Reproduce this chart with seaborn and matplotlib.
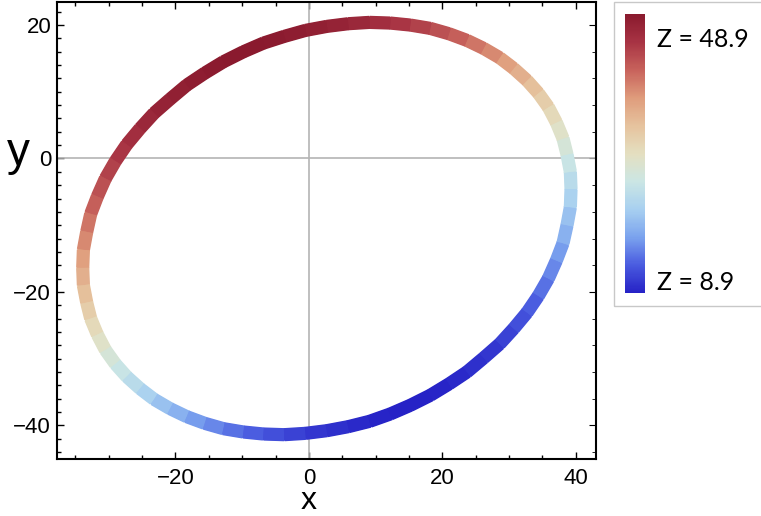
import numpy as np
import matplotlib
matplotlib.use("Agg")
import matplotlib.pyplot as plt
import seaborn as sns
from matplotlib.collections import LineCollection
from matplotlib.ticker import MultipleLocator
from matplotlib.patches import Rectangle
from matplotlib.cm import ScalarMappable

# points read along the ring (x, y) and the Z value shown by its colour
x_vals = [39.3, 39.2, 38.7, 38.1, 37.1, 35.9, 34.4, 32.7, 30.7, 28.6,
          26.2, 23.7, 21.0, 18.2, 15.2, 12.2, 9.1, 5.9, 2.7, -0.5,
          -3.7, -6.8, -9.8, -12.8, -15.6, -18.3, -20.8, -23.2, -25.3, -27.3,
          -29.0, -30.5, -31.7, -32.7, -33.3, -33.8, -33.9, -33.8, -33.3, -32.7,
          -31.7, -30.5, -29.0, -27.3, -25.3, -23.2, -20.8, -18.3, -15.6, -12.8,
          -9.8, -6.8, -3.7, -0.5, 2.7, 5.9, 9.1, 12.2, 15.2, 18.2,
          21.0, 23.7, 26.2, 28.6, 30.7, 32.7, 34.4, 35.9, 37.1, 38.1,
          38.7, 39.2]
y_vals = [-4.6, -2.0, 0.6, 3.0, 5.4, 7.7, 9.8, 11.7, 13.5, 15.1,
          16.5, 17.7, 18.7, 19.5, 20.0, 20.3, 20.4, 20.2, 19.8, 19.2,
          18.3, 17.3, 16.0, 14.5, 12.8, 11.0, 8.9, 6.8, 4.5, 2.1,
          -0.4, -3.0, -5.7, -8.3, -11.0, -13.7, -16.4, -19.0, -21.6, -24.0,
          -26.4, -28.7, -30.8, -32.7, -34.5, -36.1, -37.5, -38.7, -39.7, -40.5,
          -41.0, -41.3, -41.4, -41.2, -40.8, -40.2, -39.4, -38.3, -37.0, -35.5,
          -33.8, -32.0, -29.9, -27.8, -25.5, -23.1, -20.6, -18.0, -15.3, -12.7,
          -10.0, -7.3]
z_vals = [22.1, 23.7, 25.4, 27.2, 28.9, 30.6, 32.4, 34.1, 35.7, 37.4,
          38.9, 40.4, 41.8, 43.0, 44.2, 45.3, 46.2, 47.0, 47.7, 48.2,
          48.6, 48.8, 48.9, 48.8, 48.6, 48.2, 47.7, 47.0, 46.2, 45.3,
          44.2, 43.0, 41.8, 40.4, 38.9, 37.4, 35.7, 34.1, 32.4, 30.6,
          28.9, 27.2, 25.4, 23.7, 22.1, 20.4, 18.9, 17.4, 16.0, 14.8,
          13.6, 12.5, 11.6, 10.8, 10.1, 9.6, 9.2, 9.0, 8.9, 9.0,
          9.2, 9.6, 10.1, 10.8, 11.6, 12.5, 13.6, 14.8, 16.0, 17.4,
          18.9, 20.4]

z_min, z_max = 8.9, 48.9
z_labels = ["Z = 48.9", "Z = 8.9"]
x_ticks = [-20, 0, 20, 40]
y_ticks = [-40, -20, 0, 20]

# colours sampled from the colour bar, low to high
bar_colors = ["#2622c6", "#4a5ce0", "#7ba3ee", "#a8d0f0", "#cbe6e4",
              "#e4dfc0", "#e6c39e", "#df9c7c", "#c8635c", "#a83444", "#8a1a2e"]

sns.set_style("white")
plt.rcParams['font.family'] = ['Liberation Sans', 'DejaVu Sans']
plt.rcParams['text.color'] = 'black'
plt.rcParams['xtick.color'] = 'black'
plt.rcParams['ytick.color'] = 'black'

cmap = sns.blend_palette(bar_colors, as_cmap=True)
norm = plt.Normalize(z_min, z_max)

fig = plt.figure(figsize=(7.61, 5.16), dpi=100)
ax = fig.add_axes([56.7 / 761, 1 - 458.7 / 516, 539 / 761, 457 / 516])

# axes cross lines
ax.axhline(0, color="#b4b4b4", lw=1.2, zorder=1)
ax.axvline(0, color="#b4b4b4", lw=1.2, zorder=1)

# the ring, one segment between each pair of read points
pts = np.column_stack([x_vals, y_vals])
pts = np.vstack([pts, pts[:1]])
zz = np.append(z_vals, z_vals[0])
segs = np.stack([pts[:-1], pts[1:]], axis=1)
seg_z = (zz[:-1] + zz[1:]) / 2
# round-capped layer underneath fills the seams of the butt-capped layer
under = LineCollection(segs, cmap=cmap, norm=norm, linewidths=8.5,
                       capstyle="round", zorder=3)
under.set_array(seg_z)
ax.add_collection(under)
lc = LineCollection(segs, cmap=cmap, norm=norm, linewidths=9.5,
                    capstyle="butt", zorder=4)
lc.set_array(seg_z)
ax.add_collection(lc)

ax.set_xlim(-37.8, 43.0)
ax.set_ylim(-45.0, 23.5)
ax.set_xticks(x_ticks)
ax.set_yticks(y_ticks)
ax.xaxis.set_minor_locator(MultipleLocator(5))
ax.yaxis.set_minor_locator(MultipleLocator(2))
ax.tick_params(axis="x", which="both", direction="in", bottom=True, top=True,
               labelsize=16, pad=7)
ax.tick_params(axis="y", which="both", direction="in", left=True, right=False,
               labelsize=16, pad=4)
ax.tick_params(which="major", length=5, width=1)
ax.tick_params(which="minor", length=3, width=1)
for sp in ax.spines.values():
    sp.set_color("black")
    sp.set_linewidth(1.5)

right = ax.secondary_yaxis("right")
right.yaxis.set_major_locator(MultipleLocator(20))
right.yaxis.set_minor_locator(MultipleLocator(4))
right.tick_params(which="both", direction="in", labelright=False)
right.tick_params(which="major", length=5)
right.tick_params(which="minor", length=3)
right.spines["right"].set_visible(False)

fig.text(309 / 761, 0.0, "x", fontsize=23, ha="center", va="bottom")
fig.text(18 / 761, 1 - 165 / 516, "y", fontsize=33, ha="center", va="baseline")

# legend box with colour bar
fig.add_artist(Rectangle((614 / 761, 1 - 306 / 516), 0.3, 304 / 516,
                         transform=fig.transFigure, fill=False,
                         edgecolor="#c8c8c8", lw=1))
cax = fig.add_axes([625 / 761, 1 - 293 / 516, 20 / 761, 278.7 / 516])
cb = fig.colorbar(ScalarMappable(norm=norm, cmap=cmap), cax=cax)
cb.outline.set_visible(False)
cax.set_yticks([])
cax.minorticks_off()

fig.text(657 / 761, 1 - 47 / 516, z_labels[0], fontsize=18, family=["Lato", "DejaVu Sans"],
         ha="left", va="baseline")
fig.text(657 / 761, 1 - 290 / 516, z_labels[1], fontsize=18, family=["Lato", "DejaVu Sans"],
         ha="left", va="baseline")

fig.savefig("out.png", dpi=100)
